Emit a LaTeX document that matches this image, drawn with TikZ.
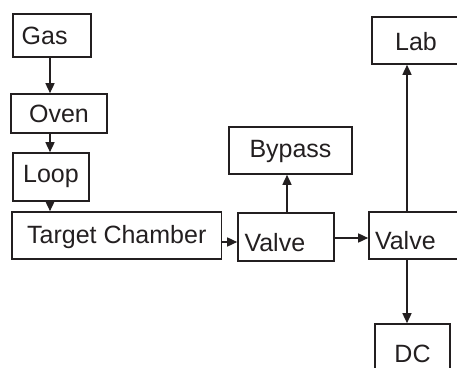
\documentclass[tikz,border=0pt]{standalone}
\usepackage{fontspec}
\setmainfont{Liberation Sans}
\usetikzlibrary{arrows.meta}
\definecolor{ink}{RGB}{35,31,32}
\begin{document}
\begin{tikzpicture}[x=1pt,y=1pt,
  box/.style={draw=ink, line width=1.6pt, rectangle, inner sep=0pt, text=ink,
    font=\fontsize{25pt}{30pt}\selectfont, text depth=0pt, text height=18pt},
  leftbox/.style={box, align=left},
  arr/.style={draw=ink, line width=1.5pt, -{Triangle[length=10pt,width=9pt]}}]
\useasboundingbox (0,0) rectangle (457,367);
\clip (0,0) rectangle (457,367);
\node[leftbox, minimum width=78pt, minimum height=43pt, inner xsep=9pt, text width=60pt, text height=19pt] (gas) at (51.7,331.5) {Gas};
\node[box, minimum width=96pt, minimum height=39pt] (oven) at (59,253.5) {Oven};
\node[box, minimum width=76pt, minimum height=48pt, text height=12pt] (loop) at (51,190) {Loop};
\node[box, minimum width=209.5pt, minimum height=47pt, text height=15pt] (target) at (116.75,131.5) {Target Chamber};
\node[leftbox, minimum width=96pt, minimum height=48pt, inner xsep=6.5pt, text width=83pt, text height=28pt] (valve1) at (286,130) {Valve};
\node[leftbox, minimum width=96pt, minimum height=47pt, inner xsep=6pt, text width=84pt, text height=28pt] (valve2) at (417,131.5) {Valve};
\node[box, minimum width=123pt, minimum height=47pt, text height=14pt] (bypass) at (290.5,216.5) {Bypass};
\node[box, minimum width=88pt, minimum height=47pt, text height=21pt] (lab) at (416,326.5) {Lab};
\node[box, minimum width=75pt, minimum height=47pt, text height=29pt] (dc) at (412.5,19.5) {DC};
\draw[arr] ([xshift=-1.7pt]gas.south) -- ([xshift=-9pt]oven.north);
\draw[arr] ([xshift=-9pt]oven.south) -- ([xshift=-1pt]loop.north);
\draw[arr] ([xshift=-1pt]loop.south) -- ([xshift=-66.75pt]target.north);
\draw[arr] ([yshift=-6.5pt]target.east) -- ([yshift=-5pt]valve1.west);
\draw[arr] ([yshift=-1pt]valve1.east) -- ([yshift=-2.5pt]valve2.west);
\draw[arr] ([xshift=1pt]valve1.north) -- ([xshift=-3.5pt]bypass.south);
\draw[arr] ([xshift=-10pt]valve2.north) -- ([xshift=-9pt]lab.south);
\draw[arr] ([xshift=-10pt]valve2.south) -- ([xshift=-5.5pt]dc.north);
\end{tikzpicture}
\end{document}
